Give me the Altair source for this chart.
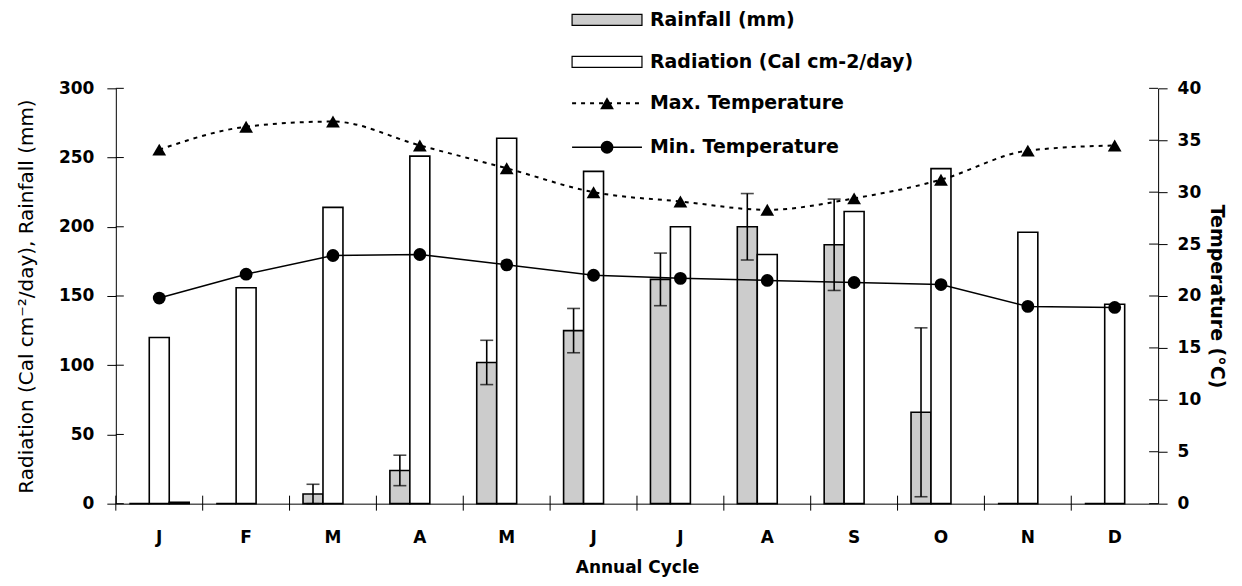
import altair as alt
import pandas as pd

# ---------------- data ----------------
month_keys = ["Jan", "Feb", "Mar", "Apr", "May", "Jun", "Jul", "Aug", "Sep", "Oct", "Nov", "Dec"]
month_labels = ["J", "F", "M", "A", "M", "J", "J", "A", "S", "O", "N", "D"]
rainfall = [0, 0, 7, 24, 102, 125, 162, 200, 187, 66, 0, 0]
rain_err = [None, None, 7, 11, 16, 16, 19, 24, 33, 61, None, None]
radiation = [120, 156, 214, 251, 264, 240, 200, 180, 211, 242, 196, 144]
other = [1, None, None, None, None, None, None, None, None, None, None, None]
max_temp = [34.1, 36.3, 36.8, 34.5, 32.3, 30.0, 29.1, 28.3, 29.4, 31.2, 34.0, 34.5]
min_temp = [19.8, 22.1, 23.9, 24.0, 23.0, 22.0, 21.7, 21.5, 21.3, 21.1, 19.0, 18.9]
series_names = ["Rainfall", "Radiation", "Other"]
left_ticks = [0, 50, 100, 150, 200, 250, 300]
right_ticks = [0, 5, 10, 15, 20, 25, 30, 35, 40]
legend_labels = ["Rainfall (mm)", "Radiation (Cal cm-2/day)", "Max. Temperature", "Min. Temperature"]

W, H = 1044, 416
FONT = "DejaVu Sans"
RAIN_FILL = "#cccccc"

# ---------------- tables ----------------
rows = []
for i, m in enumerate(month_keys):
    rows.append({"month": m, "series": "Rainfall", "value": rainfall[i]})
    rows.append({"month": m, "series": "Radiation", "value": radiation[i]})
    if other[i] is not None:
        rows.append({"month": m, "series": "Other", "value": other[i]})
bar_df = pd.DataFrame(rows)

err_df = pd.DataFrame([
    {"month": m, "series": "Rainfall", "lo": max(rainfall[i] - rain_err[i], 0), "hi": rainfall[i] + rain_err[i]}
    for i, m in enumerate(month_keys) if rain_err[i] is not None
])
temp_df = pd.DataFrame({"month": month_keys, "tmax": max_temp, "tmin": min_temp})
lt_df = pd.DataFrame({"v": left_ticks})
rt_df = pd.DataFrame({"v": right_ticks})
mk_df = pd.DataFrame({"month": month_keys, "lab": month_labels})
one = pd.DataFrame({"k": [0]})


def x_scale():
    return alt.Scale(domain=month_keys, paddingInner=0, paddingOuter=0)


def off_scale():
    return alt.Scale(domain=series_names, paddingInner=0, paddingOuter=0.675)


def yl_scale():
    return alt.Scale(domain=[0, 300], nice=False, zero=True)


def yr_scale():
    return alt.Scale(domain=[0, 40], nice=False, zero=True)


def x_axis():
    return alt.Axis(title="Annual Cycle", labelExpr="substring(datum.value, 0, 1)", labelAngle=0,
                    ticks=False, labelPadding=26, titlePadding=14, labelFontSize=17,
                    labelFontWeight="bold", titleFontSize=17, titleFontWeight="bold")


def X(**kw):
    return alt.X("month:N", sort=month_keys, scale=x_scale(), axis=x_axis(), **kw)


def OFF():
    return alt.XOffset("series:N", scale=off_scale(), sort=series_names)


bars = alt.Chart(bar_df).mark_bar(stroke="black", strokeWidth=1.6).encode(
    x=X(),
    xOffset=OFF(),
    y=alt.Y("value:Q", scale=yl_scale(),
            axis=alt.Axis(orient="left", values=left_ticks, tickSize=9, labelPadding=13,
                          title="Radiation (Cal cm⁻²/day), Rainfall (mm)", titlePadding=22,
                          labelFontSize=17, labelFontWeight="bold", titleFontSize=20,
                          titleFontWeight="normal")),
    fill=alt.Fill("series:N", scale=alt.Scale(domain=series_names, range=[RAIN_FILL, "#ffffff", "#000000"]),
                  legend=None),
)

err_rule = alt.Chart(err_df).mark_rule(color="black", strokeWidth=1.6).encode(
    x=X(), xOffset=OFF(),
    y=alt.Y("lo:Q", scale=yl_scale(), axis=None), y2="hi:Q",
)
cap_lo = alt.Chart(err_df).mark_tick(color="black", thickness=1.6, size=13).encode(
    x=X(), xOffset=OFF(),
    y=alt.Y("lo:Q", scale=yl_scale(), axis=None),
)
cap_hi = alt.Chart(err_df).mark_tick(color="black", thickness=1.6, size=13).encode(
    x=X(), xOffset=OFF(),
    y=alt.Y("hi:Q", scale=yl_scale(), axis=None),
)
left_in = alt.Chart(lt_df).mark_rule(color="black", strokeWidth=1).encode(
    y=alt.Y("v:Q", scale=yl_scale(), axis=None), x=alt.value(0), x2=alt.value(8))
bottom_ticks = alt.Chart(mk_df).mark_rule(color="black", strokeWidth=1).encode(
    x=X(bandPosition=0),
    y=alt.value(H - 8), y2=alt.value(H + 7))

tmax_line = alt.Chart(temp_df).mark_line(color="black", strokeWidth=2, strokeDash=[4, 5],
                                         interpolate="monotone").encode(
    x=X(),
    y=alt.Y("tmax:Q", scale=yr_scale(),
            axis=alt.Axis(orient="right", values=right_ticks, tickSize=9, labelPadding=10,
                          title="Temperature (°C)", titlePadding=6, labelFontSize=17,
                          labelFontWeight="bold", titleFontSize=19, titleFontWeight="bold")),
)
tmax_pts = alt.Chart(temp_df).mark_point(shape="triangle-up", filled=True, color="black", size=190,
                                         opacity=1).encode(
    x=X(), y=alt.Y("tmax:Q", scale=yr_scale(), axis=None))
tmin_line = alt.Chart(temp_df).mark_line(color="black", strokeWidth=1.5).encode(
    x=X(), y=alt.Y("tmin:Q", scale=yr_scale(), axis=None))
tmin_pts = alt.Chart(temp_df).mark_point(shape="circle", filled=True, color="black", size=165,
                                         opacity=1).encode(
    x=X(), y=alt.Y("tmin:Q", scale=yr_scale(), axis=None))
right_in = alt.Chart(rt_df).mark_rule(color="black", strokeWidth=1).encode(
    y=alt.Y("v:Q", scale=yr_scale(), axis=None), x=alt.value(W - 9), x2=alt.value(W))

# ---------------- legend (drawn by hand) ----------------
LX0, LX1, LXM, LT = 457, 527, 492, 535
leg = []
leg.append(alt.Chart(one).mark_rect(fill=RAIN_FILL, stroke="black", strokeWidth=1.2).encode(
    x=alt.value(LX0), x2=alt.value(LX1), y=alt.value(-74), y2=alt.value(-63)))
leg.append(alt.Chart(one).mark_rect(fill="white", stroke="black", strokeWidth=1.2).encode(
    x=alt.value(LX0), x2=alt.value(LX1), y=alt.value(-32), y2=alt.value(-21)))
leg.append(alt.Chart(one).mark_rule(color="black", strokeWidth=2, strokeDash=[4, 5]).encode(
    x=alt.value(LX0), x2=alt.value(LX1), y=alt.value(15)))
leg.append(alt.Chart(one).mark_point(shape="triangle-up", filled=True, color="black", size=190,
                                     opacity=1).encode(x=alt.value(LXM), y=alt.value(15)))
leg.append(alt.Chart(one).mark_rule(color="black", strokeWidth=1.5).encode(
    x=alt.value(LX0), x2=alt.value(LX1), y=alt.value(59)))
leg.append(alt.Chart(one).mark_point(shape="circle", filled=True, color="black", size=165,
                                     opacity=1).encode(x=alt.value(LXM), y=alt.value(59)))
for lab, yy in zip(legend_labels, [-68, -26, 15, 59]):
    leg.append(alt.Chart(one).mark_text(align="left", baseline="middle", fontSize=19,
                                        fontWeight="bold", font=FONT, color="black").encode(
        x=alt.value(LT), y=alt.value(yy), text=alt.value(lab)))

chart = alt.layer(
    bars, err_rule, cap_lo, cap_hi, left_in, bottom_ticks,
    tmax_line, tmin_line, tmax_pts, tmin_pts, right_in, *leg
).resolve_scale(y="independent").properties(
    width=W, height=H,
    padding={"left": 108, "top": 80, "right": 76, "bottom": 77},
    autosize=alt.AutoSizeParams(type="none"),
    background="white",
).configure_view(stroke=None).configure_axis(
    domainColor="black", tickColor="black", labelColor="black", titleColor="black",
    labelFont=FONT, titleFont=FONT, grid=False, domainWidth=1, tickWidth=1,
).configure_text(font=FONT)

chart.save("out.html", embed_options={"renderer": "svg", "actions": False})
